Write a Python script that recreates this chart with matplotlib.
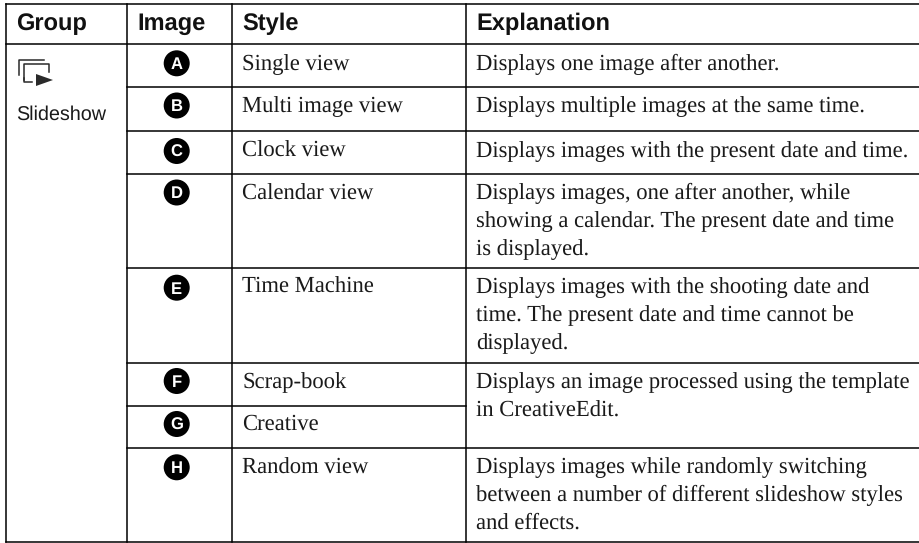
"""
Slideshow style table, drawn on a pixel-sized axes.
"""

import matplotlib
matplotlib.use("Agg")
import matplotlib.pyplot as plt
from matplotlib.patches import Circle

plt.rcParams["text.hinting"] = "no_hinting"

WIDTH = 919
HEIGHT = 543

HEADERS = ["Group", "Image", "Style", "Explanation"]
LETTERS = ["A", "B", "C", "D", "E", "F", "G", "H"]
STYLES = ["Single view", "Multi image view", "Clock view", "Calendar view",
          "Time Machine", "Scrap-book", "Creative", "Random view"]
EXPLANATIONS = [
    ["Displays one image after another."],
    ["Displays multiple images at the same time."],
    ["Displays images with the present date and time."],
    ["Displays images, one after another, while",
     "showing a calendar. The present date and time", "is displayed."],
    ["Displays images with the shooting date and",
     "time. The present date and time cannot be", "displayed."],
    ["Displays an image processed using the template", "in CreativeEdit."],
    [],
    ["Displays images while randomly switching",
     "between a number of different slideshow styles", "and effects."],
]
GROUP = "Slideshow"

# table geometry in image pixels
COL_X = [5.5, 126.5, 232, 466]
ROW_Y = [44, 87, 131, 174, 268, 363, 406, 448, 542]
TOP_Y = 4
HEADER_X = [16.3, 137, 242.5, 476.5]
BADGE_DY = [19.3, 18.5, 20, 18.5, 19.7, 18, 18, 19.3]
BASELINE_DY = [26, 25, 25.7, 25.3, 25, 25.5, 24, 25.5]
LINE_STEP = 27.8


def draw_grid(ax):
    lw = 1.1
    for y in (TOP_Y, ROW_Y[0], ROW_Y[-1]):
        ax.plot([COL_X[0], WIDTH], [y, y], color="black", lw=lw, solid_capstyle="projecting")
    for i, y in enumerate(ROW_Y[1:-1], start=1):
        # the Scrap-book / Creative rule stops at the explanation column
        right = COL_X[3] if i == 6 else WIDTH
        ax.plot([COL_X[1], right], [y, y], color="black", lw=lw)
    for x in COL_X:
        ax.plot([x, x], [TOP_Y, ROW_Y[-1]], color="black", lw=lw, solid_capstyle="projecting")


def draw_icon(ax):
    color = "#2a2a2a"
    ax.plot([19, 19, 44], [75, 60, 60], color=color, lw=1.1)
    ax.plot([24, 24, 49, 49], [80, 64, 64, 72], color=color, lw=1.1)
    ax.plot([24, 24, 32], [78, 82, 82], color=color, lw=1.1)
    ax.fill([36, 36, 53], [74, 86, 80], color=color, lw=0)


def main():
    fig = plt.figure(figsize=(WIDTH / 100, HEIGHT / 100), dpi=100)
    ax = fig.add_axes([0, 0, 1, 1])
    ax.set_xlim(0, WIDTH)
    ax.set_ylim(HEIGHT, 0)
    ax.axis("off")

    draw_grid(ax)

    for x, head in zip(HEADER_X, HEADERS):
        ax.text(x, 30, head, family="Liberation Sans", fontweight="bold",
                fontsize=17, ha="left", va="baseline", color="#111111")

    draw_icon(ax)
    ax.text(16, 119.3, GROUP, family="Liberation Sans", fontsize=14.2,
            ha="left", va="baseline", color="#1a1a1a")

    for i, letter in enumerate(LETTERS):
        top = ROW_Y[i]
        cy = top + BADGE_DY[i]
        ax.add_patch(Circle((176.7, cy), 13, color="black", lw=0))
        ax.text(176.7, cy + 5.8, letter, family="Liberation Sans", fontweight="bold",
                fontsize=12, color="white", ha="center", va="baseline")
        ax.text(242, top + BASELINE_DY[i], STYLES[i], family="Liberation Serif",
                fontsize=16.3, ha="left", va="baseline", color="#1a1a1a")
        for j, line in enumerate(EXPLANATIONS[i]):
            ax.text(476.3, top + BASELINE_DY[i] + j * LINE_STEP, line,
                    family="Liberation Serif", fontsize=16.3, ha="left",
                    va="baseline", color="#1a1a1a")

    fig.savefig("out.png", dpi=100)
    plt.close(fig)


if __name__ == "__main__":
    main()
